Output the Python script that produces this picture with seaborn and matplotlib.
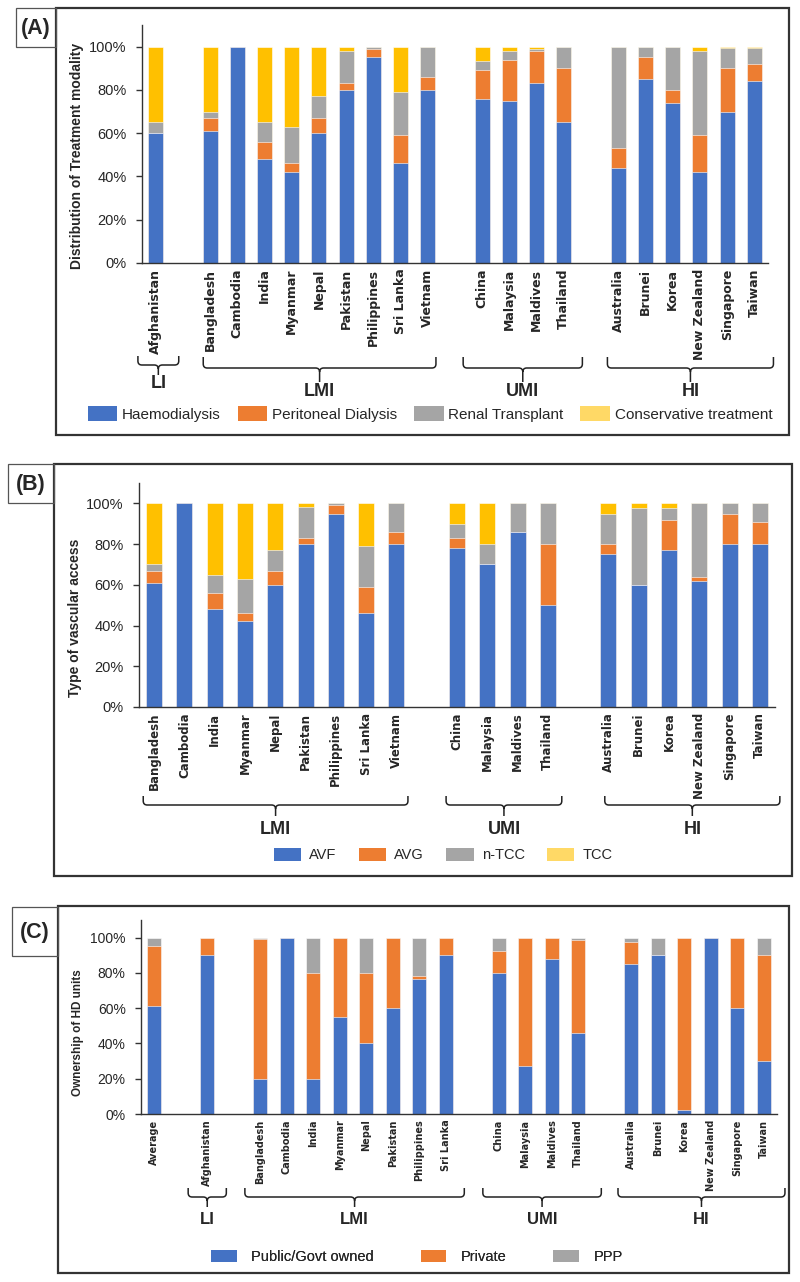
import numpy as np
import pandas as pd
import matplotlib
matplotlib.use("Agg")
import matplotlib.pyplot as plt
from matplotlib.path import Path
from matplotlib.patches import PathPatch, Rectangle, Patch
import seaborn as sns

# ---------------- Panel A: treatment modality ----------------
A_countries = ["Afghanistan", "Bangladesh", "Cambodia", "India", "Myanmar", "Nepal",
               "Pakistan", "Philippines", "Sri Lanka", "Vietnam", "China", "Malaysia",
               "Maldives", "Thailand", "Australia", "Brunei", "Korea", "New Zealand",
               "Singapore", "Taiwan"]
A_haemo = [60, 61, 100, 48, 42, 60, 80, 95, 46, 80, 76, 75, 83, 65, 44, 85, 74, 42, 70, 84]
A_pd    = [0, 6, 0, 8, 4, 7, 3, 4, 13, 6, 13, 19, 15, 25, 9, 10, 6, 17, 20, 8]
A_rt    = [5, 3, 0, 9, 17, 10, 15, 1, 20, 14, 4.5, 4, 1, 10, 47, 5, 20, 39, 9.5, 7.5]
A_ct    = [35, 30, 0, 35, 37, 23, 2, 0, 21, 0, 6.5, 2, 1, 0, 0, 0, 0, 2, 0.5, 0.5]
A_series = ["Haemodialysis", "Peritoneal Dialysis", "Renal Transplant", "Conservative treatment"]
A_order = ["Afghanistan", "_g1", "Bangladesh", "Cambodia", "India", "Myanmar", "Nepal",
           "Pakistan", "Philippines", "Sri Lanka", "Vietnam", "_g2", "China", "Malaysia",
           "Maldives", "Thailand", "_g3", "Australia", "Brunei", "Korea", "New Zealand",
           "Singapore", "Taiwan"]
A_groups = [("LI", "Afghanistan", "Afghanistan"), ("LMI", "Bangladesh", "Vietnam"),
            ("UMI", "China", "Thailand"), ("HI", "Australia", "Taiwan")]

# ---------------- Panel B: vascular access ----------------
B_countries = ["Bangladesh", "Cambodia", "India", "Myanmar", "Nepal", "Pakistan",
               "Philippines", "Sri Lanka", "Vietnam", "China", "Malaysia", "Maldives",
               "Thailand", "Australia", "Brunei", "Korea", "New Zealand", "Singapore", "Taiwan"]
B_avf  = [61, 100, 48, 42, 60, 80, 95, 46, 80, 78, 70, 86, 50, 75, 60, 77, 62, 80, 80]
B_avg  = [6, 0, 8, 4, 7, 3, 4, 13, 6, 5, 0, 0, 30, 5, 0, 15, 2, 15, 11]
B_ntcc = [3, 0, 9, 17, 10, 15, 1, 20, 14, 7, 10, 14, 20, 15, 37.5, 5.5, 36, 5, 9]
B_tcc  = [30, 0, 35, 37, 23, 2, 0, 21, 0, 10, 20, 0, 0, 5, 2.5, 2.5, 0, 0, 0]
B_series = ["AVF", "AVG", "n-TCC", "TCC"]
B_order = ["Bangladesh", "Cambodia", "India", "Myanmar", "Nepal", "Pakistan",
           "Philippines", "Sri Lanka", "Vietnam", "_g1", "China", "Malaysia", "Maldives",
           "Thailand", "_g2", "Australia", "Brunei", "Korea", "New Zealand", "Singapore", "Taiwan"]
B_groups = [("LMI", "Bangladesh", "Vietnam"), ("UMI", "China", "Thailand"),
            ("HI", "Australia", "Taiwan")]

# ---------------- Panel C: ownership of HD units ----------------
C_countries = ["Average", "Afghanistan", "Bangladesh", "Cambodia", "India", "Myanmar",
               "Nepal", "Pakistan", "Philippines", "Sri Lanka", "China", "Malaysia",
               "Maldives", "Thailand", "Australia", "Brunei", "Korea", "New Zealand",
               "Singapore", "Taiwan"]
C_public  = [61, 90, 20, 100, 20, 55, 40, 60, 76.5, 90, 80, 27, 88, 46, 85, 90, 2, 100, 60, 30]
C_private = [34, 10, 79, 0, 60, 45, 40, 40, 1.5, 10, 12.5, 73, 12, 52.5, 12.5, 0, 98, 0, 40, 60]
C_ppp     = [5, 0, 1, 0, 20, 0, 20, 0, 22, 0, 7.5, 0, 0, 1.5, 2.5, 10, 0, 0, 0, 10]
C_series = ["Public/Govt owned", "Private", "PPP"]
C_order = ["Average", "_g0", "Afghanistan", "_g1", "Bangladesh", "Cambodia", "India",
           "Myanmar", "Nepal", "Pakistan", "Philippines", "Sri Lanka", "_g2", "China",
           "Malaysia", "Maldives", "Thailand", "_g3", "Australia", "Brunei", "Korea",
           "New Zealand", "Singapore", "Taiwan"]
C_groups = [("LI", "Afghanistan", "Afghanistan"), ("LMI", "Bangladesh", "Sri Lanka"),
            ("UMI", "China", "Thailand"), ("HI", "Australia", "Taiwan")]

y_ticks = [0, 20, 40, 60, 80, 100]

# ---------------- style ----------------
BLUE, ORANGE, GRAY, YELLOW = "#4472C4", "#ED7D31", "#A5A5A5", "#FFC000"
YELLOW_LEG = "#FFD966"
sns.set_style("white")
plt.rcParams["font.family"] = ["Liberation Sans", "DejaVu Sans"]
NARROW = ["Liberation Sans Narrow", "Liberation Sans", "DejaVu Sans"]

W, H = 800, 1282
fig = plt.figure(figsize=(W / 100, H / 100), dpi=100)
fig.patch.set_facecolor("white")


def rect(x0, y_top, x1, y_bot):
    return [x0 / W, 1 - y_bot / H, (x1 - x0) / W, (y_bot - y_top) / H]


def stacked(ax, countries, series_vals, colors, order, width, xt_size, ylabel,
            ylab_xy, ytick_size):
    df = pd.DataFrame({"country": countries})
    cum = np.zeros(len(countries))
    cums = []
    for s in series_vals:
        cum = cum + np.asarray(s, dtype=float)
        cums.append(cum.copy())
    for i in reversed(range(len(series_vals))):
        col = f"c{i}"
        df[col] = cums[i]
        sns.barplot(data=df, x="country", y=col, order=order, color=colors[i],
                    saturation=1, width=width, errorbar=None, edgecolor="white",
                    linewidth=0.4, ax=ax)
    n = len(order)
    ax.set_xlim(-0.5, n - 0.5)
    ax.set_ylim(0, 110)
    ax.set_yticks(y_ticks)
    ax.set_yticklabels([f"{v}%" for v in y_ticks])
    ax.set_xticks(range(n))
    ax.set_xticklabels(["" if c.startswith("_g") else c for c in order],
                       rotation=90, fontsize=xt_size, fontweight="bold",
                       family="DejaVu Sans")
    ax.set_xticks(np.arange(-0.5, n, 1.0), minor=True)
    ax.tick_params(axis="x", which="major", length=0, pad=4)
    ax.tick_params(axis="x", which="minor", length=4, width=1, color="#333333",
                   direction="out")
    ax.tick_params(axis="y", length=4, width=1, color="#333333", pad=7,
                   labelsize=ytick_size, direction="out", left=True)
    for sp in ["top", "right"]:
        ax.spines[sp].set_visible(False)
    for sp in ["left", "bottom"]:
        ax.spines[sp].set_color("#333333")
        ax.spines[sp].set_linewidth(1.0)
    ax.set_xlabel("")
    ax.set_ylabel(ylabel, fontsize=10, fontweight="bold", va="center")
    ax.yaxis.set_label_coords(*ylab_xy)
    ax.patch.set_alpha(0)


axA = fig.add_axes(rect(142, 25, 768, 263))
stacked(axA, A_countries, [A_haemo, A_pd, A_rt, A_ct], [BLUE, ORANGE, GRAY, YELLOW],
        A_order, 0.55, 9, "Distribution of Treatment modality", (-0.104, 0.45), 10.5)

axB = fig.add_axes(rect(139, 483, 775, 707))
stacked(axB, B_countries, [B_avf, B_avg, B_ntcc, B_tcc], [BLUE, ORANGE, GRAY, YELLOW],
        B_order, 0.53, 8.5, "Type of vascular access", (-0.10, 0.40), 10.5)

axC = fig.add_axes(rect(141, 920, 777, 1114))
stacked(axC, C_countries, [C_public, C_private, C_ppp], [BLUE, ORANGE, GRAY],
        C_order, 0.52, 7, "Ownership of HD units", (-0.099, 0.42), 10)
axC.yaxis.label.set_fontsize(8.5)

# ---------------- overlay for frames, braces, legends ----------------
ov = fig.add_axes([0, 0, 1, 1], zorder=5)
ov.set_xlim(0, W)
ov.set_ylim(H, 0)
ov.axis("off")
ov.patch.set_alpha(0)


def xpix(ax, x):
    return ax.transData.transform((x, 0))[0]


def brace(x0, x1, top, mid, tip, r=4):
    xm = (x0 + x1) / 2
    verts = [(x0, top), (x0, mid - r), (x0, mid), (x0 + r, mid), (xm - r, mid),
             (xm, mid), (xm, mid + r), (xm, tip),
             (xm, mid + r), (xm, mid), (xm + r, mid), (x1 - r, mid), (x1, mid),
             (x1, mid - r), (x1, top)]
    M, L, C3 = Path.MOVETO, Path.LINETO, Path.CURVE3
    codes = [M, L, C3, C3, L, C3, C3, L, M, C3, C3, L, C3, C3, L]
    ov.add_patch(PathPatch(Path(verts, codes), fill=False, lw=1.1, ec="#222222"))
    return xm


def draw_groups(ax, order, groups, pads, top, mid, tip, lab_y, fs, small=None):
    for name, first, last in groups:
        lo, hi = pads[name]
        x0 = xpix(ax, order.index(first) + lo)
        x1 = xpix(ax, order.index(last) + hi)
        t, m, p, ly = top, mid, tip, lab_y
        if small is not None and name in small:
            t, m, p, ly = small[name]
        xm = brace(x0, x1, t, m, p)
        ov.text(xm, ly, name, ha="center", va="center", fontsize=fs,
                fontweight="bold", family=NARROW)


draw_groups(axA, A_order, A_groups,
            {"LI": (-0.65, 0.85), "LMI": (-0.25, 0.3), "UMI": (-0.7, 0.68), "HI": (-0.4, 0.7)},
            357, 368, 382, 392, 13, small={"LI": (356, 365, 375, 384)})
draw_groups(axB, B_order, B_groups,
            {"LMI": (-0.36, 0.38), "UMI": (-0.36, 0.46), "HI": (-0.12, 0.66)},
            796, 805, 816, 830, 13)
draw_groups(axC, C_order, C_groups,
            {"LI": (-0.72, 0.72), "LMI": (-0.58, 0.7), "UMI": (-0.6, 0.87), "HI": (-0.5, 0.8)},
            1188, 1197, 1207, 1220, 12)

# frames and panel tags
for (bx0, by0, bx1, by1), (lx0, ly0, lx1, ly1), tag in [
        ((56, 8, 789, 435), (16, 8, 56, 47), "(A)"),
        ((54, 464, 792, 876), (8, 464, 54, 503), "(B)"),
        ((58, 906, 789, 1273), (12, 907, 58, 956), "(C)")]:
    ov.add_patch(Rectangle((bx0, by0), bx1 - bx0, by1 - by0, fill=False,
                           lw=1.6, ec="#333333"))
    ov.add_patch(Rectangle((lx0, ly0), lx1 - lx0, ly1 - ly0, fill=False,
                           lw=0.9, ec="#555555"))
    ov.text((lx0 + lx1) / 2, (ly0 + ly1) / 2 + 1, tag, ha="center", va="center",
            fontsize=15.5, fontweight="bold")

# legends
def legend(names, colors, center, fs, hl, hh, pad, colsp):
    handles = [Patch(facecolor=c, edgecolor="none", label=n) for n, c in zip(names, colors)]
    leg = ov.legend(handles=handles, ncol=len(handles), loc="center",
                    bbox_to_anchor=center, bbox_transform=ov.transData,
                    frameon=False, fontsize=fs, handlelength=hl, handleheight=hh,
                    handletextpad=pad, columnspacing=colsp, borderpad=0,
                    borderaxespad=0)
    ov.add_artist(leg)


legend(A_series, [BLUE, ORANGE, GRAY, YELLOW_LEG], (430, 414), 11, 1.95, 1.05, 0.3, 1.1)
legend(B_series, [BLUE, ORANGE, GRAY, YELLOW_LEG], (443, 855), 10.5, 1.9, 1.0, 0.55, 1.5)
legend(C_series, [BLUE, ORANGE, GRAY], (417, 1257), 10.5, 1.75, 0.9, 1.0, 3.2)

fig.savefig("out.png", dpi=100, facecolor="white")
